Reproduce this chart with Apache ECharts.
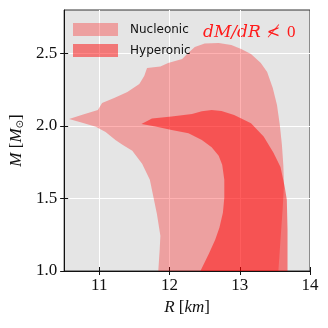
<!DOCTYPE html>
<html>
<head>
<meta charset="utf-8">
<script src="https://cdn.jsdelivr.net/npm/echarts@6/dist/echarts.min.js"></script>
<style>
  html, body { margin: 0; padding: 0; background: #fff; }
  #chart { width: 328px; height: 328px; }
</style>
</head>
<body>
<div id="chart"></div>
<script>
// outline of the nucleonic band (R in km, M in solar masses), traced clockwise from the left tip
var nucR = [10.57, 10.77, 10.98, 11.04, 11.22, 11.40, 11.57, 11.64, 11.68, 11.87, 11.98, 12.18, 12.25, 12.36,
    12.50, 12.70, 12.88, 13.02, 13.16, 13.30, 13.39, 13.47, 13.53, 13.57, 13.60, 13.62, 13.63, 13.61, 13.58,
    13.55, 13.55, 11.84, 11.84, 11.86, 11.87, 11.82, 11.72, 11.61, 11.47, 11.33, 11.23, 11.09, 10.95, 10.77];
var nucM = [2.049, 2.080, 2.111, 2.159, 2.194, 2.235, 2.290, 2.345, 2.400, 2.410, 2.435, 2.462, 2.497, 2.545,
    2.569, 2.572, 2.559, 2.531, 2.497, 2.435, 2.373, 2.262, 2.145, 2.008, 1.870, 1.732, 1.594, 1.422, 1.216,
    1.0, 0.95, 0.95, 1.0, 1.147, 1.243, 1.395, 1.629, 1.739, 1.829, 1.870, 1.904, 1.959, 1.994, 2.021];

// outline of the hyperonic band
var hypR = [11.60, 11.75, 12.03, 12.32, 12.46, 12.60, 12.74, 12.92, 13.16, 13.34, 13.48, 13.58, 13.64, 13.67,
    13.68, 13.68, 13.68, 12.44, 12.44, 12.56, 12.65, 12.71, 12.76, 12.78, 12.78, 12.75, 12.70, 12.60, 12.46,
    12.27, 12.03, 11.80];
var hypM = [2.014, 2.052, 2.065, 2.083, 2.101, 2.111, 2.104, 2.076, 2.019, 1.927, 1.815, 1.718, 1.581, 1.491,
    1.284, 1.0, 0.95, 0.95, 1.0, 1.119, 1.216, 1.298, 1.402, 1.505, 1.629, 1.732, 1.794, 1.853, 1.904,
    1.950, 1.973, 1.996];

var xTicks = [11, 12, 13, 14];
var yTicks = [1.0, 1.5, 2.0, 2.5];

var nucColor = 'rgba(255, 0, 0, 0.3)';
var hypColor = 'rgba(255, 0, 0, 0.48)';

function regionSeries(name, rs, ms, color) {
    return {
        name: name,
        type: 'custom',
        clip: true,
        itemStyle: { color: color },
        data: [[rs[0], ms[0]]],
        renderItem: function (params, api) {
            var pts = rs.map(function (r, i) { return api.coord([r, ms[i]]); });
            return {
                type: 'polygon',
                shape: { points: pts },
                style: { fill: color }
            };
        }
    };
}

var tickFont = { fontFamily: 'Liberation Serif', fontSize: 17, color: '#111' };

var myChart = echarts.init(document.getElementById('chart'));
var option = {
    animation: false,
    grid: {
        left: 61, right: 18, top: 10, bottom: 57,
        show: true,
        backgroundColor: '#e5e5e5',
        borderColor: '#333',
        borderWidth: 1
    },
    legend: {
        orient: 'vertical',
        left: 73,
        top: 23,
        padding: 0,
        itemWidth: 45,
        itemHeight: 13,
        itemGap: 8,
        icon: 'rect',
        data: ['Nucleonic', 'Hyperonic'],
        textStyle: { fontFamily: 'DejaVu Sans', fontSize: 12, color: '#111', padding: [0, 0, 0, 7] }
    },
    graphic: [{
        type: 'text',
        left: 203,
        top: 24,
        style: {
            text: '{i|dM/dR}{r|≮}{n|0}',
            fill: '#ff1a1a',
            rich: {
                i: { fontStyle: 'italic', fontFamily: 'DejaVu Serif', fontSize: 17, fill: '#ff1a1a' },
                r: { fontFamily: 'DejaVu Serif', fontSize: 16, fill: '#ff1a1a', padding: [0, 7, 0, 6] },
                n: { fontFamily: 'Liberation Serif', fontSize: 17, fill: '#ff1a1a' }
            }
        }
    }],
    xAxis: [{
        type: 'value',
        min: 10.5,
        max: 14,
        name: '{i|R} [{i|km}]',
        nameLocation: 'middle',
        nameGap: 26,
        nameTextStyle: {
            fontFamily: 'Liberation Serif', fontSize: 17, color: '#111',
            rich: { i: { fontStyle: 'italic', fontFamily: 'Liberation Serif', fontSize: 17, color: '#111' } }
        },
        axisLine: { show: true, lineStyle: { color: '#111', width: 1 } },
        axisTick: { show: true, customValues: xTicks, length: 4, lineStyle: { color: '#111' } },
        axisLabel: Object.assign({ customValues: xTicks, margin: 6 }, tickFont),
        splitLine: { show: true, lineStyle: { color: '#fff', width: 1 } }
    }, {
        type: 'value',
        position: 'bottom',
        min: 10.5,
        max: 14,
        axisLine: { show: false },
        axisTick: { show: true, inside: true, customValues: xTicks, length: 4, lineStyle: { color: '#111' } },
        axisLabel: { show: false },
        splitLine: { show: false }
    }],
    yAxis: [{
        type: 'value',
        min: 1.0,
        max: 2.8,
        name: '{i|M} [{i|M}{s|⊙}]',
        nameLocation: 'middle',
        nameGap: 34,
        nameTextStyle: {
            fontFamily: 'Liberation Serif', fontSize: 17, color: '#111',
            rich: {
                i: { fontStyle: 'italic', fontFamily: 'Liberation Serif', fontSize: 17, color: '#111' },
                s: { fontFamily: 'DejaVu Sans', fontSize: 10, color: '#111', padding: [7, 0, 0, 0] }
            }
        },
        axisLine: { show: true, lineStyle: { color: '#111', width: 1 } },
        axisTick: { show: true, customValues: yTicks, length: 4, lineStyle: { color: '#111' } },
        axisLabel: Object.assign({
            customValues: yTicks, margin: 7,
            formatter: function (v) { return v.toFixed(1); }
        }, tickFont),
        splitLine: { show: true, lineStyle: { color: '#fff', width: 1 } }
    }, {
        type: 'value',
        position: 'left',
        min: 1.0,
        max: 2.8,
        axisLine: { show: false },
        axisTick: { show: true, inside: true, customValues: yTicks, length: 4, lineStyle: { color: '#111' } },
        axisLabel: { show: false },
        splitLine: { show: false }
    }],
    series: [
        regionSeries('Nucleonic', nucR, nucM, nucColor),
        regionSeries('Hyperonic', hypR, hypM, hypColor)
    ]
};
myChart.setOption(option);
</script>
</body>
</html>
